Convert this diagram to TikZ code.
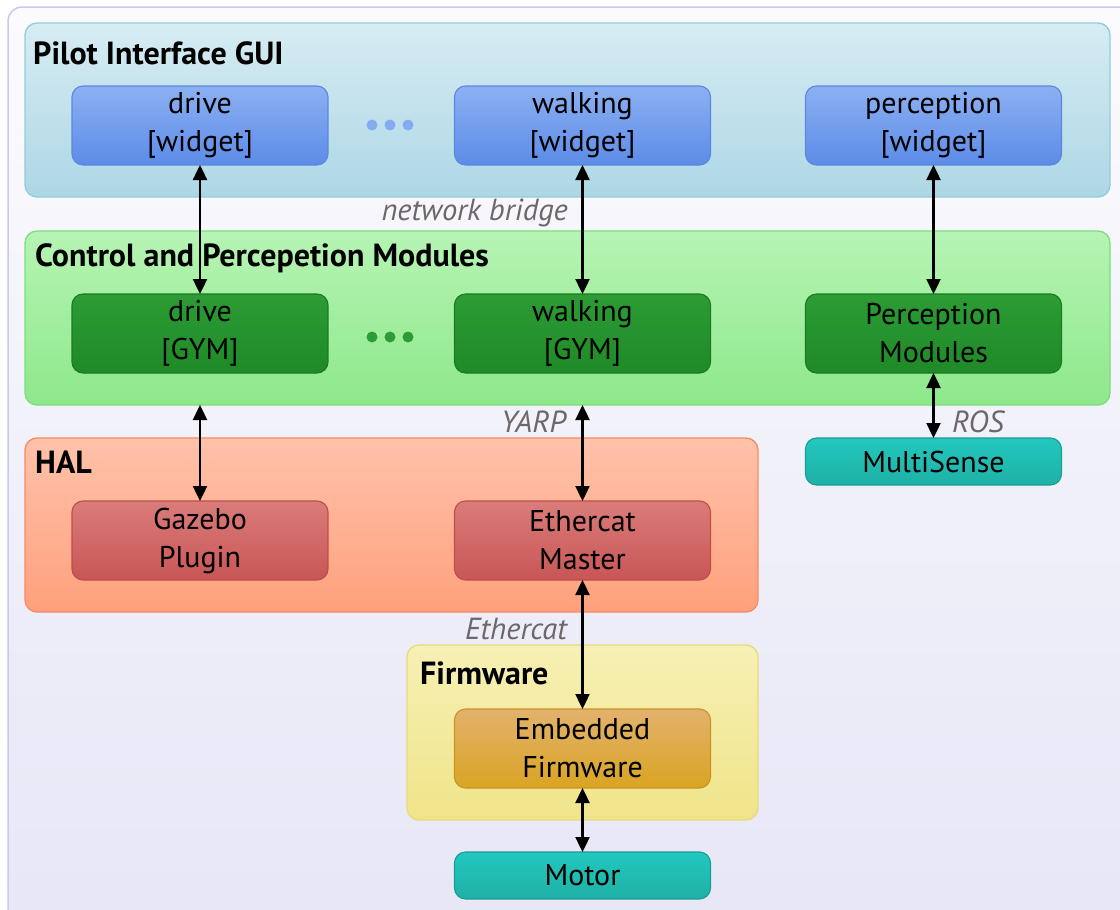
\documentclass[tikz,border=0pt]{standalone}
\usepackage{fontspec}
\setmainfont{PT Sans}
\usepackage{tikz}
\usetikzlibrary{arrows.meta,positioning,calc}
\definecolor{bgTop}{HTML}{FBFBFE}
\definecolor{bgBot}{HTML}{E6E6F6}
\definecolor{bgLine}{HTML}{C8C8F2}
\definecolor{guiTop}{HTML}{D6ECF3}
\definecolor{guiBot}{HTML}{ADD7E5}
\definecolor{guiLine}{HTML}{92CCDC}
\definecolor{wgTop}{HTML}{8CB0F2}
\definecolor{wgBot}{HTML}{5C8CE8}
\definecolor{wgLine}{HTML}{5A88E0}
\definecolor{ctrlTop}{HTML}{B6F4B4}
\definecolor{ctrlBot}{HTML}{8EE88A}
\definecolor{ctrlLine}{HTML}{7EDD7E}
\definecolor{gymTop}{HTML}{2C9C34}
\definecolor{gymBot}{HTML}{1F8A27}
\definecolor{gymLine}{HTML}{1C7A22}
\definecolor{halTop}{HTML}{FFC2AA}
\definecolor{halBot}{HTML}{FFA07C}
\definecolor{halLine}{HTML}{F88A68}
\definecolor{hwTop}{HTML}{DA7C7A}
\definecolor{hwBot}{HTML}{C85656}
\definecolor{hwLine}{HTML}{C04C4C}
\definecolor{fwTop}{HTML}{F6F0B4}
\definecolor{fwBot}{HTML}{F0E48A}
\definecolor{fwLine}{HTML}{E8DA7C}
\definecolor{embTop}{HTML}{E2B26E}
\definecolor{embBot}{HTML}{DAA422}
\definecolor{embLine}{HTML}{C89422}
\definecolor{devTop}{HTML}{22C8BE}
\definecolor{devBot}{HTML}{1FB0A6}
\definecolor{devLine}{HTML}{1A9E96}
\definecolor{lblGray}{HTML}{6E6668}

\begin{document}
\begin{tikzpicture}[x=1pt,y=-1pt,
  layer/.style={rounded corners=12pt,line width=1.3pt,inner sep=0pt,outer sep=0pt},
  box/.style={rounded corners=11pt,line width=1.1pt,minimum width=256pt,minimum height=79pt,
    inner sep=0pt,outer sep=0pt,align=center,font=\fontsize{30}{38}\selectfont},
  widget/.style={box,draw=wgLine,top color=wgTop,bottom color=wgBot},
  gym/.style={box,draw=gymLine,top color=gymTop,bottom color=gymBot},
  hw/.style={box,draw=hwLine,top color=hwTop,bottom color=hwBot},
  emb/.style={box,draw=embLine,top color=embTop,bottom color=embBot},
  dev/.style={box,minimum height=47pt,draw=devLine,top color=devTop,bottom color=devBot},
  ttl/.style={anchor=base west,inner sep=0pt,font=\bfseries\fontsize{32}{34}\selectfont},
  lbl/.style={inner sep=0pt,text=lblGray,font=\itshape\fontsize{30.5}{32}\selectfont},
  arr/.style={{Triangle[length=15pt,width=14pt]}-{Triangle[length=15pt,width=14pt]},line width=2.4pt}]
\clip (0,0) rectangle (1120,910);
\draw[bgLine,line width=1.5pt,rounded corners=14pt,top color=bgTop,bottom color=bgBot] (8,7) rectangle (1150,940);

% layers
\node[layer,draw=guiLine,top color=guiTop,bottom color=guiBot,minimum width=1085pt,minimum height=174pt] (gui) at (567.5,110) {};
\node[layer,draw=ctrlLine,top color=ctrlTop,bottom color=ctrlBot,minimum width=1085pt,minimum height=174pt] (ctrl) at (567.5,318) {};
\node[layer,draw=halLine,top color=halTop,bottom color=halBot,minimum width=733pt,minimum height=174pt] (hal) at (391.5,525) {};
\node[layer,draw=fwLine,top color=fwTop,bottom color=fwBot,minimum width=351pt,minimum height=175pt] (fw) at (582.5,732.5) {};
\node[ttl] (guittl)  at (33,64)  {Pilot Interface GUI};
\node[ttl] (ctrlttl) at (35,266) {Control and Percepetion Modules};
\node[ttl] (halttl)  at (35,473) {HAL};
\node[ttl] (fwttl)   at (420,684) {Firmware};

% boxes
\node[widget] (wdrive) at (200,125.5)   {drive\\{[widget]}};
\node[widget] (wwalk)  at (582.5,125.5) {walking\\{[widget]}};
\node[widget] (wperc)  at (933.5,125.5) {perception\\{[widget]}};
\node[gym] (gdrive) at (200,333.5)   {drive\\{[GYM]}};
\node[gym] (gwalk)  at (582.5,333.5) {walking\\{[GYM]}};
\node[gym] (gperc)  at (933.5,333.5) {Perception\\Modules};
\node[hw] (gazebo) at (200,540.5)   {Gazebo\\Plugin};
\node[hw] (ecat)   at (582.5,540.5) {Ethercat\\Master};
\node[emb] (embfw) at (582.5,748.5) {Embedded\\Firmware};
\node[dev] (msense) at (933.5,461.5) {MultiSense};
\node[dev] (motor)  at (582.5,875.5) {Motor};
\foreach \x in {372,390,408} {
  \fill[wgTop!85!wgBot] (\x,125) circle (5.5pt);
  \fill[gymTop] (\x,337) circle (5.5pt);
}

% links
\draw[arr] (wdrive) -- (gdrive);
\draw[arr] (wwalk) -- (gwalk);
\draw[arr] (wperc) -- (gperc);
\draw[arr] (ctrl.south -| gdrive) -- (gazebo);
\draw[arr] (ctrl.south -| gwalk) -- (ecat);
\draw[arr] (gperc) -- (msense);
\draw[arr] (ecat) -- (embfw);
\draw[arr] (embfw) -- (motor);
\node[lbl,anchor=east] (nbridge) at (568,213) {network bridge};
\node[lbl,anchor=east] (yarp)    at (566,422) {YARP};
\node[lbl,anchor=west] (ros)     at (952,422) {ROS};
\node[lbl,anchor=east] (ecatbus) at (567,629) {Ethercat};
\end{tikzpicture}
\end{document}
